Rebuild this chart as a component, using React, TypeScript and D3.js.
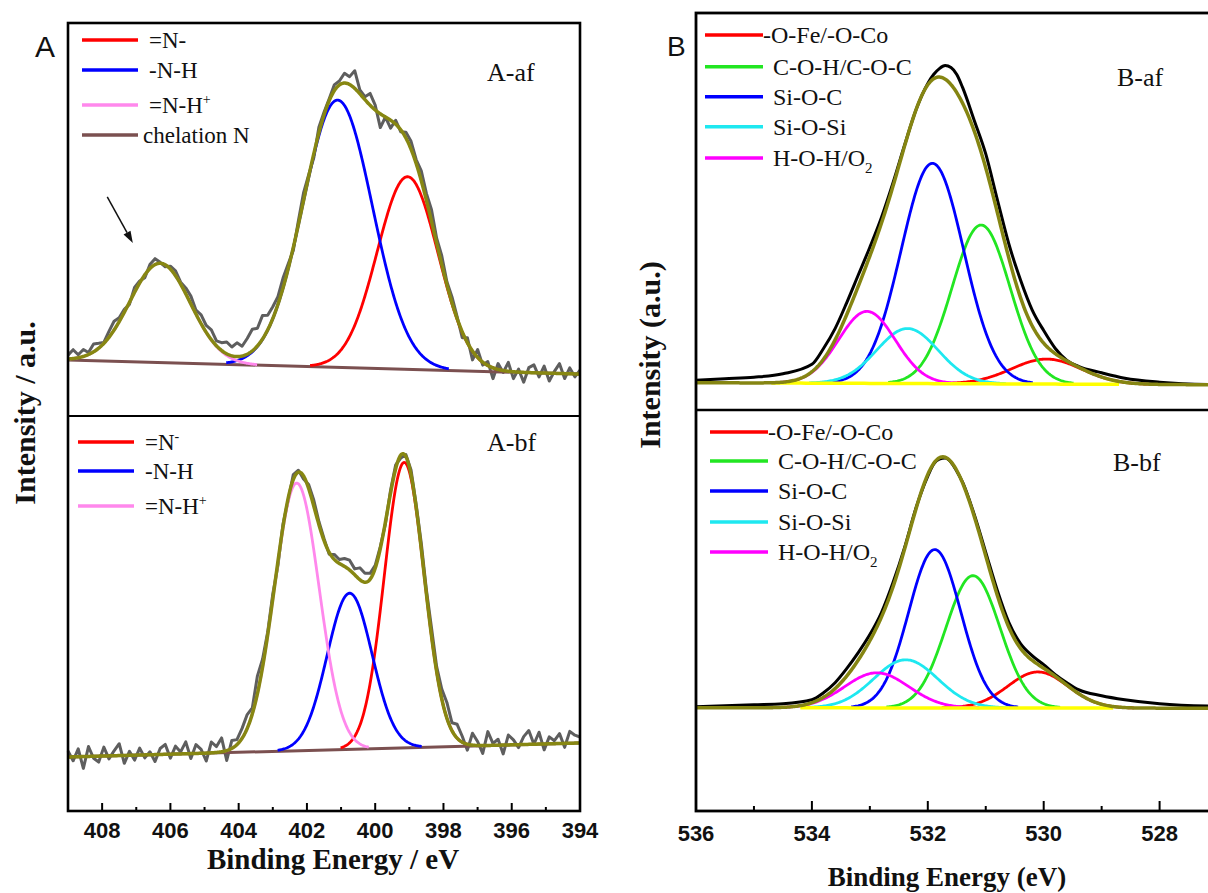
import React from 'react';
import * as d3 from 'd3';

// ---------------- data ----------------
const ticksA = [408, 406, 404, 402, 400, 398, 396, 394];
const minorTicksA = [407, 405, 403, 401, 399, 397, 395];
const ticksB = [536, 534, 532, 530, 528];
const minorTicksB = [535, 533, 531, 529, 527];

const aNamesAf = ['=N-', '-N-H', '=N-H^+', 'chelation N'];
const aNamesBf = ['=N^-', '-N-H', '=N-H^+'];
const aColors = ['#ff0000', '#0000ff', '#ff88ec', '#7b5050'];

// A-af fitted peaks (=N-, -N-H, =N-H+): centre eV, height a.u., FWHM eV
const aafCenter = [399.05, 401.1, 406.3];
const aafHeight = [196, 272, 101];
const aafFwhm = [2.1, 2.4, 2.09];
const aafBaseline = [57, 42.7]; // at 409 eV and 394 eV
// measured minus fit, every 0.15 eV from 409 eV
const aafResidual = [
  4, 9, 3, 7, 2, 8, 5, 1, 6, 9, 4,
  3, -2, 5, 2, -3, 4, 6, 1, -2, 3, 5, 2,
  6, 8, 4, 9, 7, 10, 5, 8,
  12, 9, 14, 10, 16, 22,
  18, 24, 15, 12, 8, 10,
  5, -3, 4, 8, 2, -4, 6, 3,
  2, 6, 4, 10, 8, 18, 4, 3, 12, 5,
  -14, 0, -8, 4, -2, 6,
  8, 4, 10, 7, 12, 5, 9, 3, 6,
  2, -6, 5, -9, 8, -3, 4, -11, 6, -2, 9, -7, 3, -10, 5, 8, -4, 7, -8, 2, 10, -5, 6, -3, 4,
];

// A-bf fitted peaks (=N-, -N-H, =N-H+)
const abfCenter = [399.15, 400.75, 402.3];
const abfHeight = [289, 158, 271];
const abfFwhm = [1.37, 1.55, 1.55];
const abfBaseline = [54.7, 68.9];
const abfResidual = [
  6, -4, 8, -12, 10, -2, -6, 9, -3, 5, 12,
  -8, 4, -5, 7, -3, 3, -7, 6, 10, -4, 8,
  2, 12, -5, 9, 4, -8, 11, 6, 14, -10, 8,
  5, 10, 14, 6, 18, 8, 3, 5,
  -4, 3, -2, 5, 2, -3, 4, 6, 3, 2, -2, 5, 4, 8, 10, 6, 12, 9, 6, 3,
  2, -2, 3, 4, -3, 2, 5, 3, 6, 4, 8, 5,
  10, 16, 8, 14, 6, -6, 12, 4,
  -8, 14, 2, 6, -9, 10, 5, -3, 8, 14, 0, 12, -6, 7, 3, 10, -4, 12, 8, 6,
];

const bNames = ['-O-Fe/-O-Co', 'C-O-H/C-O-C', 'Si-O-C', 'Si-O-Si', 'H-O-H/O_2'];
const bColors = ['#ff0000', '#22e622', '#0000ff', '#1ee8f0', '#ff00ff'];

const bafCenter = [529.95, 531.08, 531.92, 532.35, 533.05];
const bafHeight = [25.2, 160, 222, 55.4, 72.5];
const bafFwhm = [1.42, 1.18, 1.27, 1.25, 1.15];
const bafBaseline = [27.5, 25.2]; // at 536 and 526 eV

const bbfCenter = [530.1, 531.22, 531.88, 532.38, 532.88];
const bbfHeight = [36, 132, 158, 48, 35];
const bbfFwhm = [1.22, 1.1, 1.06, 1.3, 1.3];
const bbfBaseline = [103, 102.5];

// measured O 1s spectra (black)
const bRawEnergy = [536, 535.5, 535, 534.5, 534, 533.8, 533.6, 533.4, 533.2, 533, 532.8, 532.6, 532.4, 532.2, 532,
  531.9, 531.8, 531.7, 531.6, 531.5, 531.4, 531.2, 531, 530.8, 530.6, 530.4, 530.2, 530, 529.8, 529.6,
  529.4, 529, 528.6, 528, 527, 526];
const bafRaw = [30, 31.5, 33, 36.5, 46, 62, 82, 108, 136, 164, 194, 229, 267, 303, 329,
  338, 344, 347, 345, 338, 325, 292, 258, 212, 167, 131, 101, 80, 62, 50,
  44, 37.5, 32, 28, 25.5, 25.2];
const bbfRaw = [104, 105, 106, 107, 111, 118, 128, 142, 158, 176, 198, 228, 263, 303, 334,
  346, 351, 352, 348, 339, 328, 296, 258, 220, 188, 167, 155, 146, 136, 128,
  121, 115, 111, 107, 104.5, 104];

// ---------------- helpers ----------------
const gauss = (e: number, c: number, h: number, w: number) =>
  h * Math.exp((-4 * Math.LN2 * (e - c) * (e - c)) / (w * w));

function grid(from: number, to: number, step: number) {
  const n = Math.round(Math.abs(from - to) / step);
  const s = from > to ? -1 : 1;
  return d3.range(n + 1).map((i) => from + s * i * step);
}

function model(centers: number[], heights: number[], fwhms: number[], base: number[], e0: number, e1: number) {
  const baseAt = (e: number) => base[0] + ((base[1] - base[0]) * (e0 - e)) / (e0 - e1);
  const fitAt = (e: number) =>
    baseAt(e) + centers.reduce((s, c, i) => s + gauss(e, c, heights[i], fwhms[i]), 0);
  return { baseAt, fitAt };
}

const lineGen = d3.line<[number, number]>();
const smoothGen = d3.line<[number, number]>().curve(d3.curveMonotoneX);

function rich(s: string, small: number) {
  const sup = s.match(/^(.*)\^(.)$/);
  if (sup) return (<>{sup[1]}<tspan dy={-9} fontSize={small}>{sup[2]}</tspan></>);
  const sub = s.match(/^(.*)_(.)$/);
  if (sub) return (<>{sub[1]}<tspan dy={7} fontSize={small}>{sub[2]}</tspan></>);
  return s;
}

const SERIF = '"Liberation Serif", "Times New Roman", serif';
const SANS = '"Liberation Sans", Arial, sans-serif';

// ---------------- scales ----------------
const xA = d3.scaleLinear().domain([409, 394]).range([68, 580]);
const yAaf = d3.scaleLinear().domain([0, 400]).range([416, 23]);
const yAbf = d3.scaleLinear().domain([0, 400]).range([811, 416]);
const xB = d3.scaleLinear().domain([536, 526]).range([696, 1275.5]);
const yBaf = d3.scaleLinear().domain([0, 400]).range([410, 13]);
const yBbf = d3.scaleLinear().domain([0, 400]).range([811, 410]);

function PanelA({ y, centers, heights, fwhms, base, residual }: any) {
  const { baseAt, fitAt } = model(centers, heights, fwhms, base, 409, 394);
  const fine = grid(409, 394, 0.02);
  const raw = residual.map((r: number, i: number) => {
    const e = 409 - 0.15 * i;
    return [xA(e), y(fitAt(e) + r)] as [number, number];
  });
  const fit = fine.map((e) => [xA(e), y(fitAt(e))] as [number, number]);
  const baseLine = [[xA(409), y(baseAt(409))], [xA(394), y(baseAt(394))]] as [number, number][];
  return (
    <g>
      <path d={lineGen(raw) || ''} fill="none" stroke="#5e5e5e" strokeWidth={3} strokeLinejoin="round" />
      <path d={lineGen(baseLine) || ''} fill="none" stroke={aColors[3]} strokeWidth={3} />
      {centers.map((c: number, i: number) => {
        const half = 1.36 * fwhms[i];
        const lo = Math.max(394, c - half);
        const hi = Math.min(409, c + half);
        const pts = grid(hi, lo, 0.02).map((e) => [xA(e), y(baseAt(e) + gauss(e, c, heights[i], fwhms[i]))] as [number, number]);
        return <path key={i} d={lineGen(pts) || ''} fill="none" stroke={aColors[i]} strokeWidth={2.8} />;
      })}
      <path d={lineGen(fit) || ''} fill="none" stroke="#878712" strokeWidth={3.5} strokeLinejoin="round" />
    </g>
  );
}

function PanelB({ y, centers, heights, fwhms, base, raw, yellowFrom, yellowTo }: any) {
  const { baseAt, fitAt } = model(centers, heights, fwhms, base, 536, 526);
  const fine = grid(536, 526, 0.02);
  const fit = fine.map((e) => [xB(e), y(fitAt(e))] as [number, number]);
  const rawPts = bRawEnergy.map((e, i) => [xB(e), y(raw[i])] as [number, number]);
  const yellow = grid(yellowFrom, yellowTo, 0.1).map((e) => [xB(e), y(baseAt(e))] as [number, number]);
  return (
    <g>
      {centers.map((c: number, i: number) => {
        const half = 1.36 * fwhms[i];
        const pts = grid(c + half, c - half, 0.02).map((e) => [xB(e), y(baseAt(e) + gauss(e, c, heights[i], fwhms[i]))] as [number, number]);
        return <path key={i} d={lineGen(pts) || ''} fill="none" stroke={bColors[i]} strokeWidth={2.8} />;
      })}
      <path d={lineGen(yellow) || ''} fill="none" stroke="#ffff00" strokeWidth={3.5} />
      <path d={smoothGen(rawPts) || ''} fill="none" stroke="#000" strokeWidth={3} />
      <path d={lineGen(fit) || ''} fill="none" stroke="#858512" strokeWidth={3.5} />
    </g>
  );
}

function LegendA({ names, rows, x1, x2, tx }: any) {
  return (
    <g fontFamily={SERIF} fontSize={23} fill="#111">
      {names.map((n: string, i: number) => (
        <g key={i}>
          <line x1={x1} x2={x2} y1={rows[i]} y2={rows[i]} stroke={aColors[i]} strokeWidth={3.5} />
          <text x={n === 'chelation N' ? x2 + 5 : tx} y={rows[i] + 8}>{rich(n, 14)}</text>
        </g>
      ))}
    </g>
  );
}

function LegendB({ rows, x1, x2 }: any) {
  return (
    <g fontFamily={SERIF} fontSize={24} fill="#111">
      {bNames.map((n, i) => (
        <g key={i}>
          <line x1={x1} x2={x2} y1={rows[i]} y2={rows[i]} stroke={bColors[i]} strokeWidth={3.5} />
          <text x={i === 0 ? x2 : x2 + 10} y={rows[i] + 8}>{rich(n, 15)}</text>
        </g>
      ))}
    </g>
  );
}

export default function App() {
  const arrowFrom: [number, number] = [xA(407.85), yAaf(223)];
  const arrowTo: [number, number] = [xA(407.1), yAaf(176)];
  const dx = arrowTo[0] - arrowFrom[0];
  const dy = arrowTo[1] - arrowFrom[1];
  const len = Math.hypot(dx, dy);
  const ux = dx / len, uy = dy / len;
  const hb = [arrowTo[0] - 12 * ux, arrowTo[1] - 12 * uy];
  const head = `${arrowTo[0]},${arrowTo[1]} ${hb[0] - 4 * uy},${hb[1] + 4 * ux} ${hb[0] + 4 * uy},${hb[1] - 4 * ux}`;

  return (
    <svg width={1208} height={893} style={{ position: 'absolute', left: 0, top: 0, background: '#fff' }}>
      <rect x={0} y={0} width={1208} height={893} fill="#fff" />

      {/* ---------- Panel A ---------- */}
      <PanelA y={yAaf} centers={aafCenter} heights={aafHeight} fwhms={aafFwhm} base={aafBaseline} residual={aafResidual} />
      <PanelA y={yAbf} centers={abfCenter} heights={abfHeight} fwhms={abfFwhm} base={abfBaseline} residual={abfResidual} />

      <line x1={arrowFrom[0]} y1={arrowFrom[1]} x2={hb[0]} y2={hb[1]} stroke="#111" strokeWidth={1.5} />
      <polygon points={head} fill="#111" />

      <g stroke="#000" strokeWidth={2.6} fill="none">
        <rect x={xA(409)} y={23} width={xA(394) - xA(409)} height={811 - 23} />
        <line x1={xA(409)} x2={xA(394)} y1={416} y2={416} strokeWidth={2.2} />
      </g>
      <g stroke="#000" strokeWidth={2}>
        {ticksA.map((t) => <line key={t} x1={xA(t)} x2={xA(t)} y1={811} y2={803} />)}
        {minorTicksA.map((t) => <line key={t} x1={xA(t)} x2={xA(t)} y1={811} y2={807} />)}
      </g>
      <g fontFamily={SANS} fontWeight="bold" fontSize={22} textAnchor="middle" fill="#111">
        {ticksA.map((t) => <text key={t} x={xA(t)} y={838}>{t}</text>)}
      </g>
      <text x={333} y={869} textAnchor="middle" fontFamily={SERIF} fontWeight="bold" fontSize={29} fill="#111">Binding Energy / eV</text>
      <text transform="translate(35,413) rotate(-90)" textAnchor="middle" fontFamily={SERIF} fontWeight="bold" fontSize={30} fill="#111">Intensity / a.u.</text>
      <text x={35} y={57} fontFamily={SANS} fontSize={30} fill="#111">A</text>

      <LegendA names={aNamesAf} rows={[40, 70, 105, 135]} x1={82} x2={138} tx={149} />
      <LegendA names={aNamesBf} rows={[442, 471, 506]} x1={78} x2={134} tx={145} />
      <text x={487} y={81} fontFamily={SERIF} fontSize={26} fill="#111">A-af</text>
      <text x={487} y={451} fontFamily={SERIF} fontSize={26} fill="#111">A-bf</text>

      {/* ---------- Panel B ---------- */}
      <PanelB y={yBaf} centers={bafCenter} heights={bafHeight} fwhms={bafFwhm} base={bafBaseline} raw={bafRaw} yellowFrom={534.7} yellowTo={528.7} />
      <PanelB y={yBbf} centers={bbfCenter} heights={bbfHeight} fwhms={bbfFwhm} base={bbfBaseline} raw={bbfRaw} yellowFrom={534.2} yellowTo={528.8} />

      <g stroke="#000" strokeWidth={2.8} fill="none">
        <rect x={xB(536)} y={13} width={xB(526) - xB(536)} height={811 - 13} />
        <line x1={xB(536)} x2={xB(526)} y1={410} y2={410} strokeWidth={2.4} />
      </g>
      <g stroke="#000" strokeWidth={2}>
        {ticksB.map((t) => <line key={t} x1={xB(t)} x2={xB(t)} y1={811} y2={801} />)}
        {minorTicksB.map((t) => <line key={t} x1={xB(t)} x2={xB(t)} y1={811} y2={806} />)}
      </g>
      <g fontFamily={SANS} fontWeight="bold" fontSize={22} textAnchor="middle" fill="#111">
        {ticksB.map((t) => <text key={t} x={xB(t)} y={841}>{t}</text>)}
      </g>
      <text x={947} y={886} textAnchor="middle" fontFamily={SERIF} fontWeight="bold" fontSize={27} fill="#111">Binding Energy (eV)</text>
      <text transform="translate(660,355) rotate(-90)" textAnchor="middle" fontFamily={SERIF} fontWeight="bold" fontSize={30} fill="#111">Intensity (a.u.)</text>
      <text x={667} y={56} fontFamily={SANS} fontSize={28} fill="#111">B</text>

      <LegendB rows={[35, 66.7, 96.7, 126.7, 158]} x1={705} x2={763} />
      <LegendB rows={[432, 461, 491, 522, 552]} x1={710} x2={768} />
      <text x={1117} y={86} fontFamily={SERIF} fontSize={26} fill="#111">B-af</text>
      <text x={1113} y={471} fontFamily={SERIF} fontSize={26} fill="#111">B-bf</text>
    </svg>
  );
}
